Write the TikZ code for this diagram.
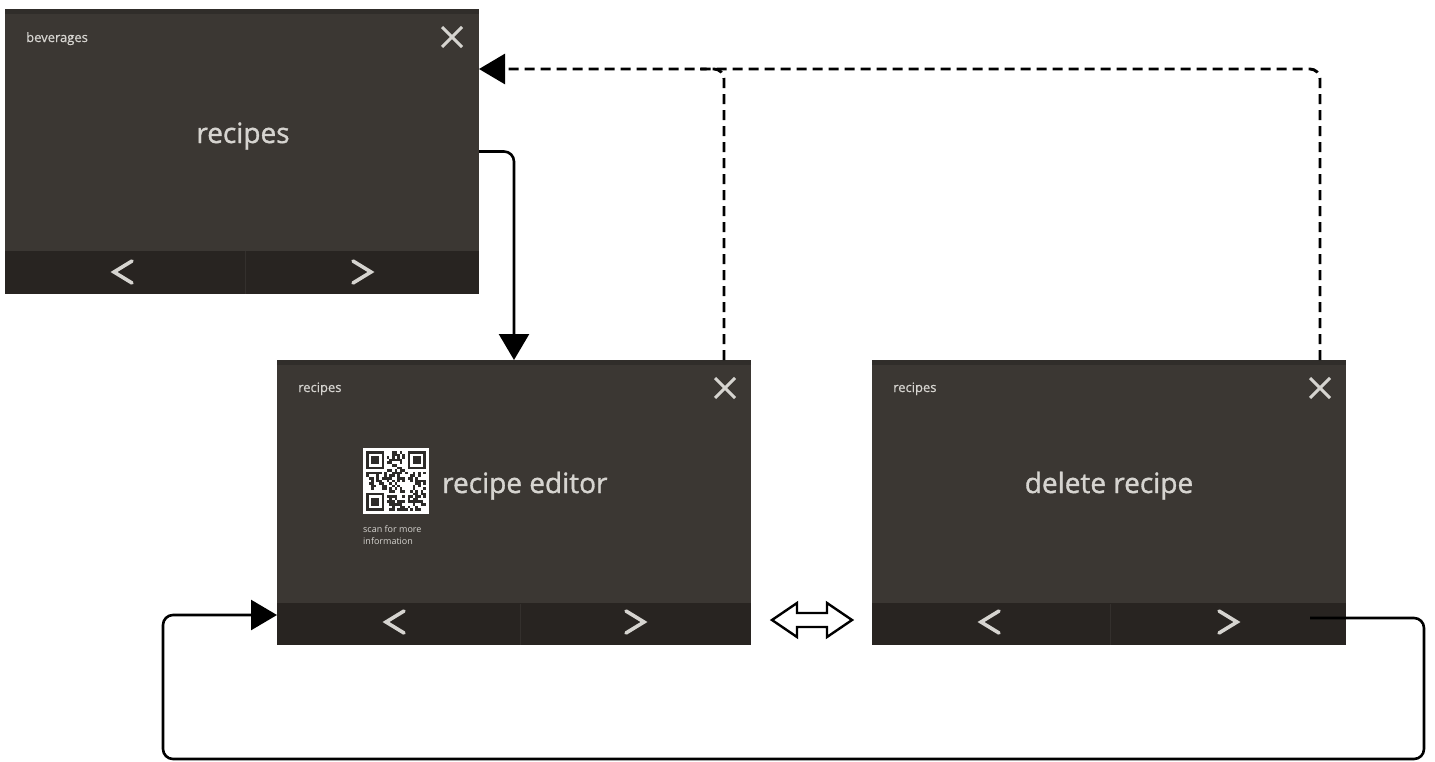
\documentclass[tikz,border=0pt]{standalone}
\usepackage{fontspec}
\setmainfont{Open Sans}
\newfontfamily\scrtitlefont{Open Sans}[FakeBold=1.2]
\newfontfamily\scrsmallfont{Open Sans}[FakeBold=0.6]
\usetikzlibrary{arrows.meta}
\definecolor{scrbody}{RGB}{59,55,51}
\definecolor{scrbar}{RGB}{40,36,33}
\definecolor{scrtop}{RGB}{48,45,42}
\definecolor{scrtext}{RGB}{214,212,208}
\definecolor{scrdiv}{RGB}{52,48,45}
\definecolor{qrdark}{RGB}{45,43,41}
\begin{document}
\begin{tikzpicture}[x=1pt,y=-1pt,
  screen/.style={fill=scrbody, anchor=north west, minimum width=474pt, minimum height=285pt, inner sep=0pt, outer sep=0pt},
  glyph/.style={draw=scrtext, line width=3.6pt, line cap=round, line join=miter},
  title/.style={text=scrtext, font=\scrtitlefont\fontsize{28}{30}\selectfont, inner sep=0pt},
  small/.style={text=scrtext, font=\scrsmallfont\fontsize{13}{15}\selectfont, anchor=base west, inner sep=0pt},
  tiny/.style={text=scrtext, font=\fontsize{9}{11}\selectfont, anchor=base west, inner sep=0pt},
  conn/.style={line width=2.6pt, rounded corners=10pt},
  tipA/.style={-{Triangle[length=26pt,width=30pt]}},
  dashline/.style={line width=2.9pt, dash pattern=on 10pt off 6pt, rounded corners=10pt},
  xmark/.pic={\draw[glyph, line width=3pt, line cap=butt] (-10,-10) -- (10,10) (10,-10) -- (-10,10);},
  chevl/.pic={\draw[glyph] (9,-11) -- (-9,0) -- (9,11);},
  chevr/.pic={\draw[glyph] (-9,-11) -- (9,0) -- (-9,11);},
  finder/.pic={\fill[white] (-2.6,-2.6) rectangle (20.8,20.8);
               \fill[qrdark] (0,0) rectangle (18.2,18.2);
               \fill[white] (2.6,2.6) rectangle (15.6,15.6);
               \fill[qrdark] (5.2,5.2) rectangle (13,13);},
]
\useasboundingbox (0,0) rectangle (1435,761);
\fill[white] (0,0) rectangle (1435,761);

% ---------- screen 1 ----------
\node[screen] (s1) at (5,9) {};
\fill[scrtop] (s1.north west) rectangle ([yshift=-5pt]s1.north east);
\fill[scrbar] (s1.south west) rectangle ([yshift=43pt]s1.south east);
\draw[scrdiv, line width=1pt] (245,251) -- (245,294);
\node[small] (t1) at (26,42) {beverages};
\node[title, anchor=base] (m1) at (243,143) {recipes};
\pic at (452,37) {xmark};
\pic at (123,272) {chevl};
\pic at (362,272) {chevr};

% ---------- screen 2 ----------
\node[screen] (s2) at (277,360) {};
\fill[scrtop] (s2.north west) rectangle ([yshift=-5pt]s2.north east);
\fill[scrbar] (s2.south west) rectangle ([yshift=42pt]s2.south east);
\draw[scrdiv, line width=1pt] (520,604) -- (520,645);
\node[small] (t2) at (298,392) {recipes};
\pic at (725,388) {xmark};
\node[fill=white, minimum size=66pt, inner sep=0pt, anchor=north west] (qr) at (363,448) {};
\pgfmathsetseed{42}
\foreach \i in {0,...,22}{\foreach \j in {0,...,22}{%
  \pgfmathrandominteger{\r}{0}{1}%
  \ifnum\r=1 \fill[qrdark] ({366+2.6*\i},{451+2.6*\j}) rectangle +(2.6,2.6);\fi}}
\pic at (366,451) {finder};
\pic at ({366+2.6*16},451) {finder};
\pic at (366,{451+2.6*16}) {finder};
\node[tiny] (c1) at (363,532) {scan for more};
\node[tiny] (c2) at (363,544) {information};
\node[title, anchor=base west] (m2) at (442,493) {recipe editor};
\pic at (395,622) {chevl};
\pic at (635,622) {chevr};

% ---------- screen 3 ----------
\node[screen] (s3) at (872,360) {};
\fill[scrtop] (s3.north west) rectangle ([yshift=-5pt]s3.north east);
\fill[scrbar] (s3.south west) rectangle ([yshift=42pt]s3.south east);
\draw[scrdiv, line width=1pt] (1110,604) -- (1110,645);
\node[small] (t3) at (893,392) {recipes};
\pic at (1320,388) {xmark};
\node[title, anchor=base] (m3) at (1109,493) {delete recipe};
\pic at (990,622) {chevl};
\pic at (1228,622) {chevr};

% ---------- connectors ----------
\draw[conn, tipA] (s1.east) -| (s2.north);

\coordinate (d1) at ([yshift=-60pt]s1.north east);
\coordinate (d2) at ([xshift=-27pt]s2.north east);
\coordinate (d3) at ([xshift=-26pt]s3.north east);
\coordinate (dj) at (700,69);
\draw[dashline, tipA] (d3) |- (d1);
\draw[dashline] (d2) |- (dj);

\coordinate (b0) at ([xshift=-36pt,yshift=27pt]s3.south east);
\coordinate (b1) at (1424,618);
\coordinate (b2) at (1424,759);
\coordinate (b3) at (163,759);
\coordinate (b4) at (163,615);
\draw[conn, tipA] (b0) -- (b1) -- (b2) -- (b3) -- (b4) -- ([yshift=30pt]s2.south west);

% double arrow between screens 2 and 3
\draw[line width=2.4pt, fill=white, line join=miter]
  (772,620) -- (797,603) -- (797,613) -- (827,613) -- (827,603) -- (852,620)
  -- (827,637) -- (827,627) -- (797,627) -- (797,637) -- cycle;
\end{tikzpicture}
\end{document}
